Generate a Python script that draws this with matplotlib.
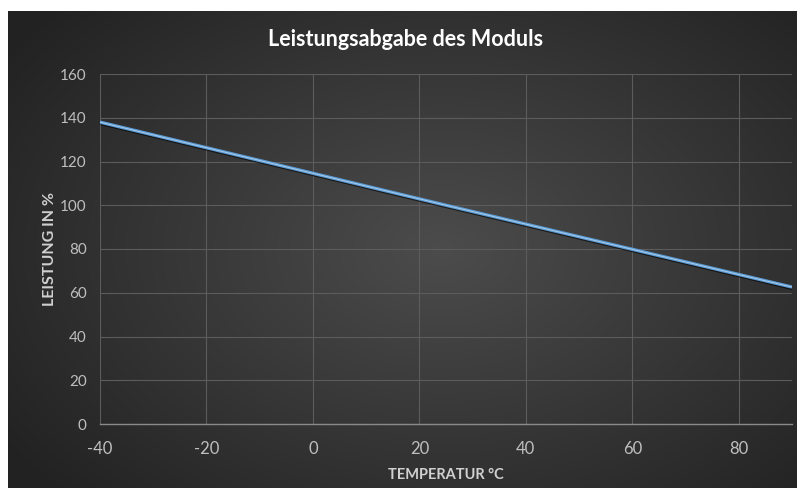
import numpy as np
import matplotlib
matplotlib.use("Agg")
import matplotlib.pyplot as plt
import matplotlib.patheffects as pe

# ---- data ----
temperature = [-40, 25, 90]
power_pct = [138.0, 100.0, 62.6]
x_ticks = [-40, -20, 0, 20, 40, 60, 80]
y_ticks = [0, 20, 40, 60, 80, 100, 120, 140, 160]
title = "Leistungsabgabe des Moduls"
xlabel = "TEMPERATUR °C"
ylabel = "LEISTUNG IN %"

plt.rcParams['font.family'] = ['Lato', 'DejaVu Sans']
plt.rcParams['axes.unicode_minus'] = False

W, H = 797, 488
fig = plt.figure(figsize=(W / 100, H / 100), dpi=100, facecolor="white")

# background with radial gradient
bx0, by0 = 8, 11
bg = fig.add_axes([bx0 / W, 0, 1 - bx0 / W, 1 - by0 / H])
bg.set_axis_off()
nx, ny = 400, 240
xx, yy = np.meshgrid(np.linspace(-1, 1, nx), np.linspace(-1, 1, ny))
r = np.sqrt((xx - 0.1) ** 2 + (yy * 0.9) ** 2) / 1.35
r = np.clip(r, 0, 1)
c_center = np.array([0x4c, 0x4c, 0x4c]) / 255
c_edge = np.array([0x22, 0x22, 0x22]) / 255
img = c_center[None, None, :] + (c_edge - c_center)[None, None, :] * r[..., None]
bg.imshow(img, aspect="auto", extent=[0, 1, 0, 1], interpolation="bilinear")
bg.set_xlim(0, 1)
bg.set_ylim(0, 1)

# main axes
left, right, top, bottom = 100, 792, 74, 424
ax = fig.add_axes([left / W, 1 - bottom / H, (right - left) / W, (bottom - top) / H])
ax.patch.set_alpha(0)
ax.set_xlim(-40, 90)
ax.set_ylim(0, 160)
ax.set_xticks(x_ticks)
ax.set_yticks(y_ticks)
ax.grid(True, color="#5c5c5c", linewidth=0.8)
ax.set_axisbelow(True)
for s in ["top", "right", "left"]:
    ax.spines[s].set_visible(False)
ax.spines["bottom"].set_color("#8a8a8a")
ax.spines["bottom"].set_linewidth(1.0)
ax.tick_params(length=0)
ax.tick_params(axis="x", colors="#bfbfbf", labelsize=12, pad=12)
ax.tick_params(axis="y", colors="#bfbfbf", labelsize=11, pad=9.5)

ax.plot(temperature, power_pct, color="#5b9bd5", linewidth=2.4,
        solid_capstyle="butt",
        path_effects=[pe.SimpleLineShadow(offset=(0.5, -1.0), shadow_color="black", alpha=0.6),
                      pe.Normal()])
ax.plot(temperature, power_pct, color="#a9cbe8", linewidth=0.7, solid_capstyle="butt")

ax.set_xlabel(xlabel, color="#d0d0d0", fontsize=10.5, fontweight="bold", labelpad=8)
ax.set_ylabel(ylabel, color="#d0d0d0", fontsize=11.5, fontweight="bold", labelpad=2)

fig.text(406 / W, 1 - 40 / H, title, color="white",
         fontsize=15.5, fontweight="bold", ha="center", va="center")

fig.savefig("out.png", dpi=100, facecolor="white")
